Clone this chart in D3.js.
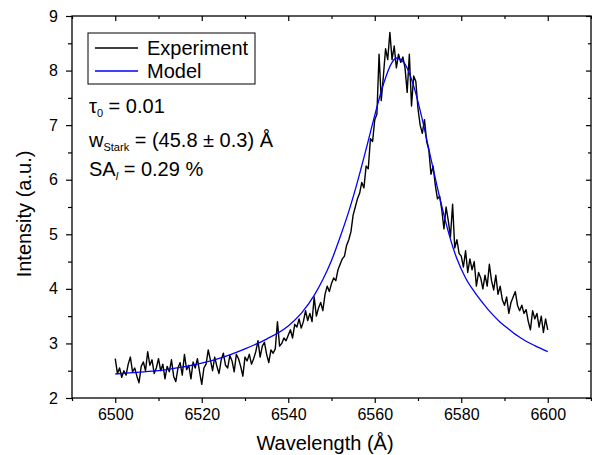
<!DOCTYPE html>
<html>
<head>
<meta charset="utf-8">
<script src="https://cdn.jsdelivr.net/npm/d3@7"></script>
<style>
  body { margin: 0; background: #fff; }
  svg { display: block; font-family: Arial, "Liberation Sans", sans-serif; }
</style>
</head>
<body>
<script>
var w = 592;  // SVG width
var h = 455;  // SVG height
var margin = {top: 16, right: 1, bottom: 57, left: 72};

// Experiment: intensity every 0.5 Å from 6500 to 6600
var expStart = 6500, expStep = 0.5;
var expIntensity = [
  2.72, 2.45, 2.55, 2.38, 2.50, 2.42, 2.62, 2.75, 2.48, 2.55, 2.40, 2.28, 2.58, 2.66, 2.50, 2.85, 2.60, 2.70, 2.45, 2.55,
  2.72, 2.50, 2.62, 2.35, 2.58, 2.48, 2.70, 2.40, 2.30, 2.55, 2.65, 2.42, 2.80, 2.52, 2.60, 2.35, 2.66, 2.55, 2.72, 2.48,
  2.25, 2.55, 2.62, 2.88, 2.70, 2.50, 2.75, 2.58, 2.45, 2.70, 2.82, 2.60, 2.55, 2.78, 2.68, 2.48, 2.80, 2.72, 2.58, 2.40,
  2.75, 2.68, 2.80, 2.62, 2.72, 2.85, 3.05, 2.75, 2.95, 3.02, 2.80, 2.65, 2.88, 2.82, 2.90, 3.40, 2.95, 3.00, 3.10, 3.05,
  3.15, 3.25, 3.10, 3.35, 3.30, 3.45, 3.28, 3.40, 3.60, 3.42, 3.55, 3.40, 3.85, 3.50, 3.65, 3.75, 3.60, 3.90, 4.05, 3.95,
  4.10, 4.20, 4.15, 4.35, 4.45, 4.55, 4.60, 4.80, 4.90, 5.05, 5.35, 5.50, 5.65, 5.75, 5.95, 5.85, 6.25, 6.20, 6.75, 6.70,
  7.10, 7.20, 8.30, 7.45, 7.90, 8.40, 8.20, 8.70, 8.20, 8.45, 8.05, 8.30, 8.15, 8.25, 8.05, 7.60, 8.30, 7.35, 7.90, 7.80,
  7.30, 7.00, 6.85, 7.10, 6.70, 6.55, 6.10, 6.25, 5.90, 5.65, 5.70, 5.45, 5.10, 5.50, 5.25, 4.95, 5.55, 4.75, 4.90, 4.65,
  4.60, 4.40, 4.70, 4.30, 4.55, 4.35, 4.50, 4.05, 4.30, 4.20, 4.00, 4.25, 4.05, 4.45, 4.15, 3.98, 4.25, 3.90, 4.05, 3.80,
  3.70, 3.85, 3.55, 3.75, 3.85, 3.95, 3.70, 3.60, 3.70, 3.55, 3.62, 3.40, 3.25, 3.60, 3.45, 3.55, 3.30, 3.50, 3.20, 3.45,
  3.25
];

// Model curve
var modelWavelength = [6500, 6505, 6510, 6515, 6520, 6525, 6530, 6535, 6540, 6543, 6546, 6548, 6550, 6552, 6554, 6556,
                       6558, 6560, 6562, 6564, 6565, 6566, 6567, 6569, 6571, 6573, 6575, 6577, 6579, 6581, 6583, 6585,
                       6587, 6589, 6591, 6593, 6595, 6597, 6600];
var modelIntensity = [2.44, 2.47, 2.50, 2.56, 2.64, 2.75, 2.90, 3.08, 3.32, 3.55, 3.88, 4.17, 4.52, 4.95, 5.42, 5.96,
                      6.56, 7.18, 7.75, 8.15, 8.23, 8.20, 8.12, 7.72, 7.10, 6.38, 5.68, 5.05, 4.55, 4.20, 3.95, 3.74,
                      3.55, 3.39, 3.26, 3.14, 3.04, 2.96, 2.85];

var xMajor = [6500, 6520, 6540, 6560, 6580, 6600];
var xMinor = [6490, 6510, 6530, 6550, 6570, 6590, 6610];
var yMajor = [2, 3, 4, 5, 6, 7, 8, 9];
var yMinor = [2.5, 3.5, 4.5, 5.5, 6.5, 7.5, 8.5];

var expData = expIntensity.map(function(v, i) { return [expStart + i * expStep, v]; });
var modelData = modelWavelength.map(function(x, i) { return [x, modelIntensity[i]]; });

var xScale = d3.scaleLinear().domain([6490, 6610]).range([margin.left, w - margin.right]);
var yScale = d3.scaleLinear().domain([2, 9]).range([h - margin.bottom, margin.top]);

var svg = d3.select("body").append("svg")
    .attr("width", w)
    .attr("height", h);

var x0 = xScale.range()[0], x1 = xScale.range()[1];
var y0 = yScale.range()[0], y1 = yScale.range()[1];

// bottom axis, ticks pointing out
svg.append("g")
    .attr("transform", "translate(0," + y0 + ")")
    .call(d3.axisBottom(xScale).tickValues(xMajor).tickSize(5).tickPadding(6).tickFormat(d3.format("d")));
svg.append("g")
    .attr("transform", "translate(0," + y0 + ")")
    .call(d3.axisBottom(xScale).tickValues(xMinor).tickSize(3).tickFormat(""));

// top axis, ticks pointing in
svg.append("g")
    .attr("transform", "translate(0," + y1 + ")")
    .call(d3.axisTop(xScale).tickValues(xMajor).tickSize(-5).tickFormat(""));
svg.append("g")
    .attr("transform", "translate(0," + y1 + ")")
    .call(d3.axisTop(xScale).tickValues(xMinor).tickSize(-3).tickFormat(""));

// left axis, ticks pointing out
svg.append("g")
    .attr("transform", "translate(" + x0 + ",0)")
    .call(d3.axisLeft(yScale).tickValues(yMajor).tickSize(6).tickPadding(8).tickFormat(d3.format("d")));
svg.append("g")
    .attr("transform", "translate(" + x0 + ",0)")
    .call(d3.axisLeft(yScale).tickValues(yMinor).tickSize(4).tickFormat(""));

// right axis, ticks pointing in
svg.append("g")
    .attr("transform", "translate(" + x1 + ",0)")
    .call(d3.axisRight(yScale).tickValues(yMajor).tickSize(-5).tickFormat(""));
svg.append("g")
    .attr("transform", "translate(" + x1 + ",0)")
    .call(d3.axisRight(yScale).tickValues(yMinor).tickSize(-3).tickFormat(""));

svg.selectAll(".domain").remove();
svg.selectAll(".tick line").attr("stroke", "#000").attr("stroke-width", 1.2);
svg.selectAll(".tick text").attr("font-size", "16px").attr("fill", "#000")
    .attr("font-family", "Arial, 'Liberation Sans', sans-serif");

// frame
svg.append("rect")
    .attr("x", x0).attr("y", y1)
    .attr("width", x1 - x0).attr("height", y0 - y1)
    .attr("fill", "none").attr("stroke", "#000").attr("stroke-width", 1.3);

var line = d3.line()
    .x(function(d) { return xScale(d[0]); })
    .y(function(d) { return yScale(d[1]); });

svg.append("path")
    .datum(expData)
    .attr("d", line)
    .attr("fill", "none")
    .attr("stroke", "#000")
    .attr("stroke-width", 1.4)
    .attr("stroke-linejoin", "round");

svg.append("path")
    .datum(modelData)
    .attr("d", line.curve(d3.curveMonotoneX))
    .attr("fill", "none")
    .attr("stroke", "#0000ff")
    .attr("stroke-width", 1.3);

// legend
var legend = svg.append("g");
legend.append("rect")
    .attr("x", 88).attr("y", 33).attr("width", 167).attr("height", 51)
    .attr("fill", "#fff").attr("stroke", "#000").attr("stroke-width", 1);
var legendItems = [{label: "Experiment", color: "#000", y: 48}, {label: "Model", color: "#0000ff", y: 71}];
legendItems.forEach(function(d) {
    legend.append("line")
        .attr("x1", 95).attr("x2", 138).attr("y1", d.y).attr("y2", d.y)
        .attr("stroke", d.color).attr("stroke-width", 1.3);
    legend.append("text")
        .attr("x", 147).attr("y", d.y + 7)
        .attr("font-size", "20px")
        .text(d.label);
});

// annotations
var t1 = svg.append("text").attr("x", 89).attr("y", 113).attr("font-size", "20px");
t1.append("tspan").text("τ");
t1.append("tspan").attr("font-size", "11px").attr("dy", 4).text("0");
t1.append("tspan").attr("dy", -4).text(" = 0.01");

var t2 = svg.append("text").attr("x", 89).attr("y", 147).attr("font-size", "20px");
t2.append("tspan").text("w");
t2.append("tspan").attr("font-size", "11px").attr("dy", 4).text("Stark");
t2.append("tspan").attr("dy", -4).text(" = (45.8 ± 0.3) Å");

var t3 = svg.append("text").attr("x", 89).attr("y", 176).attr("font-size", "20px");
t3.append("tspan").text("SA");
t3.append("tspan").attr("font-size", "11px").attr("font-style", "italic").attr("dy", 4).text("l");
t3.append("tspan").attr("dy", -4).text(" = 0.29 %");

// axis titles
svg.append("text")
    .attr("x", 325)
    .attr("y", 450)
    .attr("text-anchor", "middle")
    .attr("font-size", "20px")
    .text("Wavelength (Å)");

svg.append("text")
    .attr("transform", "translate(31," + 214 + ") rotate(-90)")
    .attr("text-anchor", "middle")
    .attr("font-size", "20px")
    .text("Intensity (a.u.)");
</script>
</body>
</html>
